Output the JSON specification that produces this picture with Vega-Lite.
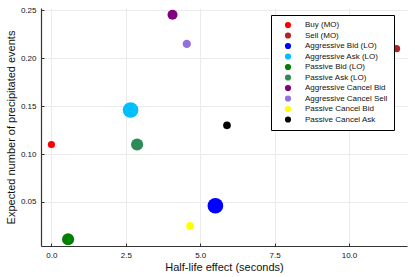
{
  "$schema": "https://vega.github.io/schema/vega-lite/v6.json",
  "width": 366,
  "height": 238,
  "autosize": "none",
  "padding": {"left": 41, "top": 8, "right": 8, "bottom": 31},
  "background": "white",
  "config": {
    "font": "Liberation Sans",
    "view": {"stroke": null},
    "axis": {
      "gridColor": "#ebebeb",
      "gridWidth": 1,
      "domainColor": "#333333",
      "domainWidth": 1.2,
      "tickColor": "#333333",
      "tickSize": -3,
      "labelFont": "Liberation Sans",
      "labelFontSize": 8,
      "labelColor": "#111111",
      "titleFont": "Liberation Sans",
      "titleFontSize": 11,
      "titleFontWeight": "normal",
      "titleColor": "#111111"
    }
  },
  "data": {
    "values": [
      {"type": "Buy (MO)", "halflife": 0.0, "expected": 0.11, "magnitude": 0.21},
      {"type": "Sell (MO)", "halflife": 11.6, "expected": 0.21, "magnitude": 0.21},
      {"type": "Aggressive Bid (LO)", "halflife": 5.51, "expected": 0.046, "magnitude": 1.0},
      {"type": "Aggressive Ask (LO)", "halflife": 2.66, "expected": 0.146, "magnitude": 1.0},
      {"type": "Passive Bid (LO)", "halflife": 0.56, "expected": 0.011, "magnitude": 0.6},
      {"type": "Passive Ask (LO)", "halflife": 2.88, "expected": 0.11, "magnitude": 0.6},
      {"type": "Aggressive Cancel Bid", "halflife": 4.07, "expected": 0.2455, "magnitude": 0.41},
      {"type": "Aggressive Cancel Sell", "halflife": 4.55, "expected": 0.215, "magnitude": 0.28},
      {"type": "Passive Cancel Bid", "halflife": 4.66, "expected": 0.025, "magnitude": 0.24},
      {"type": "Passive Cancel Ask", "halflife": 5.9, "expected": 0.13, "magnitude": 0.24}
    ]
  },
  "mark": {"type": "point", "filled": true, "shape": "circle", "opacity": 1},
  "encoding": {
    "x": {
      "field": "halflife",
      "type": "quantitative",
      "title": "Half-life effect (seconds)",
      "scale": {"domain": [-0.35, 11.95], "nice": false, "zero": false},
      "axis": {"values": [0, 2.5, 5, 7.5, 10], "format": ".1f", "labelPadding": 8, "titlePadding": 2}
    },
    "y": {
      "field": "expected",
      "type": "quantitative",
      "title": "Expected number of precipitated events",
      "scale": {"domain": [0.004, 0.2525], "nice": false, "zero": false},
      "axis": {"values": [0.05, 0.1, 0.15, 0.2, 0.25], "format": ".2f", "labelPadding": 8, "titlePadding": 4}
    },
    "size": {
      "field": "magnitude",
      "type": "quantitative",
      "scale": {"domain": [0, 1], "range": [0, 246]},
      "legend": null
    },
    "color": {
      "field": "type",
      "type": "nominal",
      "scale": {
        "domain": ["Buy (MO)", "Sell (MO)", "Aggressive Bid (LO)", "Aggressive Ask (LO)", "Passive Bid (LO)", "Passive Ask (LO)", "Aggressive Cancel Bid", "Aggressive Cancel Sell", "Passive Cancel Bid", "Passive Cancel Ask"],
        "range": ["#ff0000", "#b22222", "#0000ff", "#00bfff", "#008000", "#2e8b57", "#800080", "#9370db", "#ffff00", "#000000"]
      },
      "legend": {
        "title": null,
        "orient": "none",
        "legendX": 230,
        "legendY": 7,
        "padding": 6,
        "strokeColor": "#000000",
        "fillColor": "#ffffff",
        "symbolType": "circle",
        "symbolSize": 38,
        "symbolStrokeWidth": 0,
        "symbolOffset": 7,
        "labelOffset": 13,
        "labelFontSize": 8,
        "labelFont": "Liberation Sans",
        "labelColor": "#111111",
        "rowPadding": 2.5
      }
    }
  }
}
